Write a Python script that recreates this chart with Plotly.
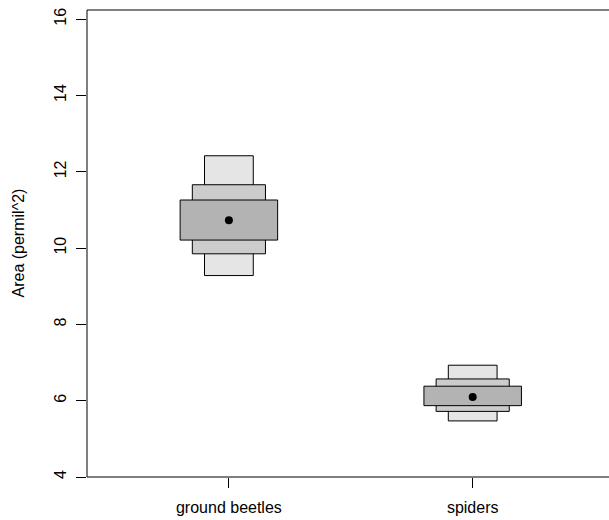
import plotly.graph_objects as go

# Groups and posterior credible intervals for ellipse area (SEA_B)
groups = ["ground beetles", "spiders"]
group_pos = [1, 2]

ci95_low = [9.28, 5.47]
ci95_high = [12.42, 6.93]
ci75_low = [9.85, 5.72]
ci75_high = [11.66, 6.57]
ci50_low = [10.21, 5.87]
ci50_high = [11.26, 6.38]
mode = [10.73, 6.10]

y_ticks = [4, 6, 8, 10, 12, 14, 16]

FONT = "Liberation Sans, Arial, Helvetica, sans-serif"

fig = go.Figure()

# nested interval boxes: widest interval is the narrowest, lightest box
for lo, hi, w, col in [
    (ci95_low, ci95_high, 0.2, "#e5e5e5"),
    (ci75_low, ci75_high, 0.3, "#cccccc"),
    (ci50_low, ci50_high, 0.4, "#b3b3b3"),
]:
    fig.add_trace(go.Bar(
        x=group_pos,
        base=lo,
        y=[h - l for h, l in zip(hi, lo)],
        width=w,
        marker=dict(color=col, line=dict(color="black", width=1)),
        showlegend=False,
        hoverinfo="skip",
    ))

fig.add_trace(go.Scatter(
    x=group_pos, y=mode, mode="markers",
    marker=dict(color="black", size=8),
    showlegend=False,
))

plot_w = 609 - 87
px_per_unit = 243.8
x_lo = 0.418
x_hi = x_lo + plot_w / px_per_unit

frame = dict(xref="paper", yref="paper", type="line",
             line=dict(color="black", width=1), layer="above")

fig.update_layout(
    width=609, height=520,
    margin=dict(l=87, r=0, t=10, b=43),
    paper_bgcolor="white", plot_bgcolor="white",
    barmode="overlay",
    font=dict(family=FONT, size=16, color="black"),
    xaxis=dict(
        range=[x_lo, x_hi], tickvals=group_pos, ticktext=groups,
        ticks="outside", ticklen=10, tickwidth=1, tickcolor="black",
        ticklabelstandoff=6, automargin=False,
        showgrid=False, zeroline=False, showline=False,
        tickfont=dict(family=FONT, size=16, color="black"),
    ),
    yaxis=dict(
        range=[4, 16.24], tickvals=y_ticks,
        ticks="outside", ticklen=10, tickwidth=1, tickcolor="black",
        tickangle=-90, ticklabelstandoff=4, automargin=False,
        showgrid=False, zeroline=False, showline=False,
        tickfont=dict(family=FONT, size=16, color="black"),
    ),
    # frame: top, bottom and left sides of the plotting region
    shapes=[
        dict(frame, x0=0, x1=1, y0=1, y1=1),
        dict(frame, x0=0, x1=1, y0=0, y1=0),
        dict(frame, x0=0, x1=0, y0=0, y1=1),
    ],
    annotations=[dict(
        text="Area (permil^2)", textangle=-90,
        xref="paper", yref="paper",
        x=(18 - 87) / plot_w, y=0.5,
        xanchor="center", yanchor="middle", showarrow=False,
        font=dict(family=FONT, size=16, color="black"),
    )],
)

fig.write_html("out.html")
